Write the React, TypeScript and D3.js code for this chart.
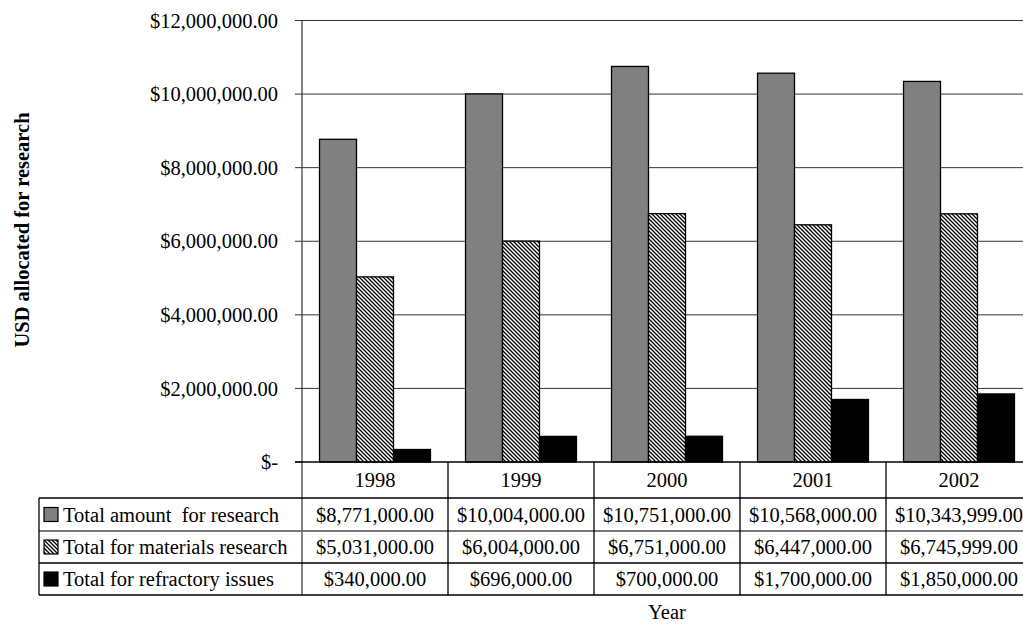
import React from "react";
import * as d3 from "d3";

// Funding by year (USD)
const years = ["1998", "1999", "2000", "2001", "2002"];
const seriesNames = [
  "Total amount  for research",
  "Total for materials research",
  "Total for refractory issues",
];
const totalResearch = [8771000, 10004000, 10751000, 10568000, 10343999];
const materialsResearch = [5031000, 6004000, 6751000, 6447000, 6745999];
const refractoryIssues = [340000, 696000, 700000, 1700000, 1850000];
const yTicks = [0, 2000000, 4000000, 6000000, 8000000, 10000000, 12000000];

const seriesValues = [totalResearch, materialsResearch, refractoryIssues];
const fills = ["#808080", "url(#hatch)", "#000000"];

const W = 1023;
const H = 625;
const FONT = "'Liberation Serif', 'Times New Roman', serif";
const FS = 20.5;

const plotLeft = 302;
const plotRight = 1032;
const plotTop = 20.5;
const plotBottom = 462;

const rowLines = [462, 498, 531, 563, 595];
const tableLeft = 39;

const money = (v: number) =>
  "$" + d3.format(",.2f")(v);
const tickMoney = (v: number) => (v === 0 ? "$-" : money(v));

export default function App() {
  const y = d3.scaleLinear().domain([0, 12000000]).range([plotBottom, plotTop]);
  const x0 = d3.scaleBand<string>().domain(years).range([plotLeft, plotRight]);
  const cat = x0.bandwidth();
  const x1 = d3
    .scaleBand<number>()
    .domain([0, 1, 2])
    .range([cat * 0.12, cat * 0.88]);

  return (
    <div style={{ position: "fixed", left: 0, top: 0 }}>
      <svg width={W} height={H} style={{ display: "block", background: "#fff" }} fontFamily={FONT}>
        <defs>
          <pattern id="hatch" patternUnits="userSpaceOnUse" width={4} height={4}>
            <rect width={4} height={4} fill="#fff" />
            <path d="M-1,-1 L5,5 M-1,3 L1,5 M3,-1 L5,1" stroke="#000" strokeWidth={1.3} />
          </pattern>
        </defs>

        {/* gridlines */}
        {yTicks.slice(1).map((t) => (
          <line key={t} x1={plotLeft} x2={plotRight} y1={y(t)} y2={y(t)} stroke="#333" strokeWidth={1} />
        ))}

        {/* bars */}
        {years.map((yr, i) => (
          <g key={yr} transform={`translate(${x0(yr)},0)`}>
            {seriesValues.map((vals, s) => (
              <rect
                key={s}
                x={x1(s)!}
                y={y(vals[i])}
                width={x1.bandwidth()}
                height={plotBottom - y(vals[i])}
                fill={fills[s]}
                stroke="#000"
                strokeWidth={1.3}
              />
            ))}
          </g>
        ))}

        {/* y axis */}
        <line x1={plotLeft} x2={plotLeft} y1={plotTop} y2={rowLines[4]} stroke="#444" strokeWidth={1.3} />
        {yTicks.map((t) => (
          <g key={t}>
            <line x1={plotLeft - 7} x2={plotLeft} y1={y(t)} y2={y(t)} stroke="#333" />
            <text x={278} y={y(t)} dy="0.35em" textAnchor="end" fontSize={FS}>
              {tickMoney(t)}
            </text>
          </g>
        ))}
        <line x1={plotLeft - 7} x2={plotRight} y1={plotBottom} y2={plotBottom} stroke="#000" strokeWidth={1.3} />

        <text
          transform="translate(22,230) rotate(-90)"
          textAnchor="middle"
          dy="0.35em"
          fontSize={FS}
          fontWeight="bold"
        >
          USD allocated for research
        </text>

        {/* data table */}
        {rowLines.slice(1).map((ly, k) => (
          <line
            key={ly}
            x1={tableLeft}
            x2={plotRight}
            y1={ly}
            y2={ly}
            stroke={k === 1 ? "#777" : "#000"}
            strokeWidth={k === 1 ? 2 : 1.3}
          />
        ))}
        <line x1={tableLeft} x2={tableLeft} y1={rowLines[1]} y2={rowLines[4]} stroke="#000" strokeWidth={1.3} />
        {years.map((yr) => (
          <line
            key={yr}
            x1={x0(yr)! + cat}
            x2={x0(yr)! + cat}
            y1={plotBottom}
            y2={rowLines[4]}
            stroke="#000"
            strokeWidth={1.3}
          />
        ))}
        {years.map((yr) => (
          <text
            key={yr}
            x={x0(yr)! + cat / 2}
            y={(rowLines[0] + rowLines[1]) / 2}
            dy="0.35em"
            textAnchor="middle"
            fontSize={FS}
          >
            {yr}
          </text>
        ))}
        {seriesNames.map((name, s) => {
          const cy = (rowLines[s + 1] + rowLines[s + 2]) / 2;
          return (
            <g key={name}>
              <rect x={44} y={cy - 7} width={14} height={14} fill={fills[s]} stroke="#000" strokeWidth={1.2} />
              <text x={63} y={cy} dy="0.35em" fontSize={FS} style={{ whiteSpace: "pre" }}>
                {name}
              </text>
              {years.map((yr, i) => (
                <text
                  key={yr}
                  x={x0(yr)! + cat / 2}
                  y={cy}
                  dy="0.35em"
                  textAnchor="middle"
                  fontSize={FS}
                >
                  {money(seriesValues[s][i])}
                </text>
              ))}
            </g>
          );
        })}

        <text x={(plotLeft + plotRight) / 2} y={619} textAnchor="middle" fontSize={FS}>
          Year
        </text>
      </svg>
    </div>
  );
}
